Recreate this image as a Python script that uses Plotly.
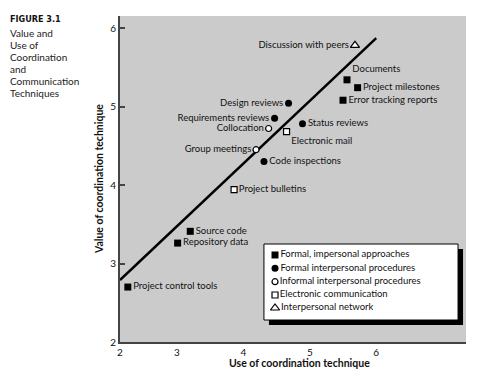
import plotly.graph_objects as go

# ---- data ----
cat_names = ["Formal, impersonal approaches", "Formal interpersonal procedures",
             "Informal interpersonal procedures", "Electronic communication",
             "Interpersonal network"]

fi_labels = ["Documents", "Project milestones", "Error tracking reports", "Source code",
             "Repository data", "Project control tools"]
fi_x = [5.56, 5.72, 5.50, 3.20, 3.01, 2.26]
fi_y = [5.34, 5.24, 5.08, 3.41, 3.26, 2.70]

fp_labels = ["Design reviews", "Requirements reviews", "Status reviews", "Code inspections"]
fp_x = [4.68, 4.47, 4.89, 4.31]
fp_y = [5.04, 4.85, 4.78, 4.30]

ip_labels = ["Collocation", "Group meetings"]
ip_x = [4.38, 4.19]
ip_y = [4.72, 4.45]

ec_labels = ["Electronic mail", "Project bulletins"]
ec_x = [4.65, 3.86]
ec_y = [4.68, 3.94]

nw_labels = ["Discussion with peers"]
nw_x = [5.68]
nw_y = [5.78]

fit_x = [2.142, 6.0]
fit_y = [2.79, 5.87]

x_tick_labels = ["2", "3", "4", "5", "6"]
y_tick_vals = [2, 3, 4, 5, 6]

title_lines = ["Value and", "Use of", "Coordination", "and", "Communication", "Techniques"]

# ---- style ----
FONT = "Lato"
TXT = dict(family=FONT, size=9.5, color="#111")
X_MIN, X_MAX = 2.142, 7.352
Y_MIN, Y_MAX = 2.0, 6.153
W, H = 485, 371
ML, MR, MT, MB = 112, 27, 8, 37
PW, PH = W - ML - MR, H - MT - MB
BG = "#cbcbcb"


def fx(f):
    return X_MIN + f * (X_MAX - X_MIN)


def fy(f):
    return Y_MIN + f * (Y_MAX - Y_MIN)


def pxx(px):
    return (px - ML) / PW


def pxy(py):
    return (H - MB - py) / PH


def box(x0, x1, y0, y1, fill, lw=0):
    return go.Scatter(x=[fx(x0), fx(x1), fx(x1), fx(x0), fx(x0)],
                      y=[fy(y0), fy(y0), fy(y1), fy(y1), fy(y0)],
                      mode="lines", fill="toself", fillcolor=fill,
                      line=dict(color="black", width=lw), showlegend=False, hoverinfo="skip")


fig = go.Figure()

# plot-area background
fig.add_trace(box(0, 1, 0, 1, BG))

fig.add_trace(go.Scatter(x=fit_x, y=fit_y, mode="lines",
                         line=dict(color="black", width=2.5), showlegend=False, hoverinfo="skip"))

M_FI = dict(symbol="square", size=7, color="black")
M_FP = dict(symbol="circle", size=7, color="black")
M_IP = dict(symbol="circle", size=6, color="white", line=dict(color="black", width=1.2))
M_EC = dict(symbol="square", size=6, color="white", line=dict(color="black", width=1.2))
M_NW = dict(symbol="triangle-up", size=8, color="white", line=dict(color="black", width=1.2))

fig.add_trace(go.Scatter(
    x=fi_x, y=fi_y, mode="markers+text", text=fi_labels,
    textposition=["top right", "middle right", "middle right", "middle right", "middle right", "middle right"],
    marker=M_FI, textfont=TXT, name=cat_names[0], showlegend=False))
fig.add_trace(go.Scatter(
    x=fp_x, y=fp_y, mode="markers+text", text=fp_labels,
    textposition=["middle left", "middle left", "middle right", "middle right"],
    marker=M_FP, textfont=TXT, name=cat_names[1], showlegend=False))
fig.add_trace(go.Scatter(
    x=ip_x, y=ip_y, mode="markers+text", text=ip_labels,
    textposition=["middle left", "middle left"],
    marker=M_IP, textfont=TXT, name=cat_names[2], showlegend=False))
fig.add_trace(go.Scatter(
    x=ec_x, y=ec_y, mode="markers+text", text=ec_labels,
    textposition=["bottom right", "middle right"],
    marker=M_EC, textfont=TXT, name=cat_names[3], showlegend=False))
fig.add_trace(go.Scatter(
    x=nw_x, y=nw_y, mode="markers+text", text=nw_labels,
    textposition=["middle left"],
    marker=M_NW, textfont=TXT, name=cat_names[4], showlegend=False))

# ---- manual legend (positions as fractions of the plot area) ----
bx0, bx1, by0, by1 = 0.416, 0.977, 0.0675, 0.3006
shx, shy = 5 / PW, 5 / PH
fig.add_trace(box(bx0 + shx, bx1 + shx, by0 - shy, by1 - shy, "black"))
fig.add_trace(box(bx0, bx1, by0, by1, "white", lw=1))
rows = [0.2669, 0.2260, 0.1850, 0.1442, 0.1043]
for name, yy, mk in zip(cat_names, rows, [M_FI, M_FP, M_IP, M_EC, M_NW]):
    fig.add_trace(go.Scatter(x=[fx(0.448)], y=[fy(yy)], mode="markers+text", text=[name],
                             textposition="middle right", textfont=TXT, marker=mk,
                             showlegend=False, hoverinfo="skip"))

fig.update_layout(
    width=W, height=H,
    margin=dict(l=ML, r=MR, t=MT, b=MB, autoexpand=False),
    paper_bgcolor="white", plot_bgcolor=BG,
    font=dict(family=FONT, size=10, color="#111"),
    xaxis=dict(range=[X_MIN, X_MAX], tickvals=[X_MIN, 3, 4, 5, 6], ticktext=x_tick_labels,
               showgrid=False, zeroline=False, showline=True, linecolor="#444", linewidth=2,
               ticks="", tickfont=dict(family=FONT, size=10, color="#111")),
    yaxis=dict(range=[Y_MIN, Y_MAX], tickvals=y_tick_vals, showgrid=False, zeroline=False,
               showline=True, linecolor="#444", linewidth=2, ticks="inside", ticklen=5,
               tickcolor="#444", tickwidth=1.5, tickfont=dict(family=FONT, size=10, color="#111")),
)

fig.add_annotation(text="<b>Use of coordination technique</b>", xref="paper", yref="paper",
                   x=pxx(291), y=pxy(355), xanchor="center", yanchor="middle", showarrow=False,
                   font=dict(family=FONT, size=10.5, color="#111"))
fig.add_annotation(text="<b>Value of coordination technique</b>", xref="paper", yref="paper",
                   x=pxx(91), y=0.5, textangle=-90, xanchor="center", yanchor="middle",
                   showarrow=False, font=dict(family=FONT, size=10.5, color="#111"))

fig.add_annotation(text="<b>FIGURE 3.1</b>", xref="paper", yref="paper", x=pxx(0), y=pxy(11),
                   xanchor="left", yanchor="middle", showarrow=False,
                   font=dict(family="DejaVu Sans Condensed", size=9, color="#111"))
for i, line in enumerate(title_lines):
    fig.add_annotation(text=line, xref="paper", yref="paper", x=pxx(0), y=pxy(25 + 12 * i),
                       xanchor="left", yanchor="middle", showarrow=False,
                       font=dict(family=FONT, size=10, color="#222"))

fig.write_html("out.html")
